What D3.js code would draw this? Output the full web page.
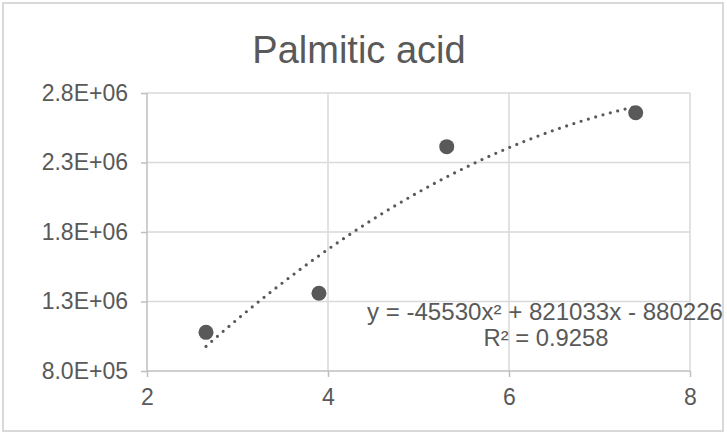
<!DOCTYPE html>
<html>
<head>
<meta charset="utf-8">
<script src="https://cdn.jsdelivr.net/npm/d3@7"></script>
<style>
  html, body { margin: 0; padding: 0; background: #fff; }
  svg { display: block; font-family: Arial, "Liberation Sans", sans-serif; }
</style>
</head>
<body>
<svg id="chart" width="727" height="435"></svg>
<script>
// ---- data ----
const title = "Palmitic acid";
const xValues = [2.652, 3.90, 5.312, 7.40];
const yValues = [1078000, 1359000, 2414000, 2658000];
const xTicks = [2, 4, 6, 8];
const xTickLabels = ["2", "4", "6", "8"];
const yTicks = [800000, 1300000, 1800000, 2300000, 2800000];
const yTickLabels = ["8.0E+05", "1.3E+06", "1.8E+06", "2.3E+06", "2.8E+06"];
const trendCoefficients = [-45530, 821033, -880226]; // a, b, c for y = ax^2 + bx + c
const equationText = "y = -45530x² + 821033x - 880226";
const r2Text = "R² = 0.9258";

// ---- layout ----
const plot = { left: 147, right: 690, top: 93, bottom: 371 };
const textColor = "#595959";
const gridColor = "#d9d9d9";
const markerColor = "#595959";

const svg = d3.select("#chart");

// outer border
svg.append("rect")
  .attr("x", 3).attr("y", 3)
  .attr("width", 720).attr("height", 428)
  .attr("fill", "#fff")
  .attr("stroke", gridColor).attr("stroke-width", 2);

const x = d3.scaleLinear().domain([2, 8]).range([plot.left, plot.right]);
const y = d3.scaleLinear().domain([800000, 2800000]).range([plot.bottom, plot.top]);

// gridlines
svg.append("g").selectAll("line").data(yTicks.slice(1)).join("line")
  .attr("x1", plot.left).attr("x2", plot.right)
  .attr("y1", d => y(d)).attr("y2", d => y(d))
  .attr("stroke", gridColor).attr("stroke-width", 1.5);
svg.append("g").selectAll("line").data(xTicks.slice(1)).join("line")
  .attr("x1", d => x(d)).attr("x2", d => x(d))
  .attr("y1", plot.top).attr("y2", plot.bottom)
  .attr("stroke", gridColor).attr("stroke-width", 1.5);

// axes
const yAxis = d3.axisLeft(y).tickValues(yTicks)
  .tickFormat((d, i) => yTickLabels[i]).tickSize(6).tickPadding(13);
const xAxis = d3.axisBottom(x).tickValues(xTicks)
  .tickFormat((d, i) => xTickLabels[i]).tickSize(6).tickPadding(12);

const gy = svg.append("g").attr("transform", `translate(${plot.left},0)`).call(yAxis);
const gx = svg.append("g").attr("transform", `translate(0,${plot.bottom})`).call(xAxis);
[gx, gy].forEach(g => {
  g.select(".domain").attr("stroke", "#bfbfbf").attr("stroke-width", 1.5);
  g.selectAll(".tick line").attr("stroke", "#bfbfbf").attr("stroke-width", 1.5);
  g.selectAll(".tick text")
    .attr("fill", textColor)
    .style("font-size", "23px")
    .style("font-family", "Arial, 'Liberation Sans', sans-serif");
});
gy.select(".domain").attr("d", `M0,${plot.top}V${plot.bottom}`);
gx.select(".domain").attr("d", `M${plot.left},0H${plot.right}`);

// trendline
const [a, b, c] = trendCoefficients;
const xMin = d3.min(xValues), xMax = d3.max(xValues);
const trendPts = d3.range(0, 101).map(i => {
  const xv = xMin + (xMax - xMin) * i / 100;
  return [xv, a * xv * xv + b * xv + c];
});
svg.append("path")
  .datum(trendPts)
  .attr("d", d3.line().x(d => x(d[0])).y(d => y(d[1])))
  .attr("fill", "none")
  .attr("stroke", markerColor)
  .attr("stroke-width", 3.2)
  .attr("stroke-linecap", "round")
  .attr("stroke-dasharray", "0 7.6");

// markers
svg.append("g").selectAll("circle").data(xValues).join("circle")
  .attr("cx", d => x(d))
  .attr("cy", (d, i) => y(yValues[i]))
  .attr("r", 7.5)
  .attr("fill", markerColor);

// title
svg.append("text")
  .attr("x", 359).attr("y", 63)
  .attr("text-anchor", "middle")
  .attr("fill", textColor)
  .style("font-size", "38px")
  .text(title);

// equation label
svg.append("text")
  .attr("x", 545).attr("y", 320)
  .attr("text-anchor", "middle")
  .attr("fill", textColor)
  .style("font-size", "23px")
  .attr("textLength", 356)
  .attr("lengthAdjust", "spacingAndGlyphs")
  .text(equationText);
svg.append("text")
  .attr("x", 546).attr("y", 346)
  .attr("text-anchor", "middle")
  .attr("fill", textColor)
  .style("font-size", "23px")
  .attr("textLength", 125)
  .attr("lengthAdjust", "spacingAndGlyphs")
  .text(r2Text);
</script>
</body>
</html>
